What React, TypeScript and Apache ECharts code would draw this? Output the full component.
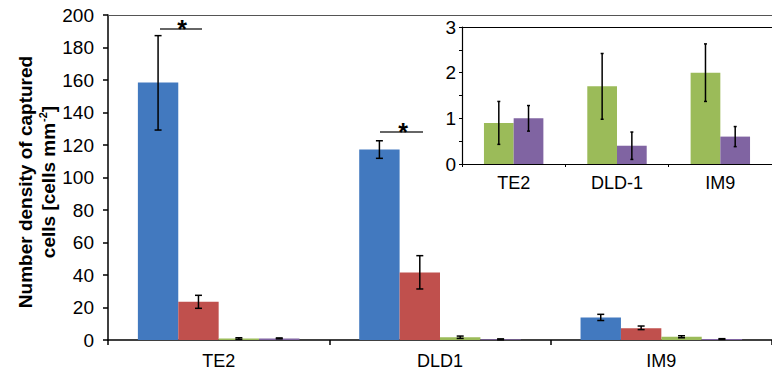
import React, { useEffect, useRef } from "react";
import * as echarts from "echarts";

const categories = ["TE2", "DLD1", "IM9"];
const insetCategories = ["TE2", "DLD-1", "IM9"];

const blueValues = [158.5, 117.3, 13.8];
const blueErr = [[129.2, 187.3], [111.8, 122.6], [12.0, 15.8]];
const redValues = [23.6, 41.6, 7.3];
const redErr = [[19.5, 27.5], [31.4, 51.9], [6.4, 8.6]];
const greenValues = [0.9, 1.7, 2.0];
const greenErr = [[0.43, 1.37], [0.98, 2.42], [1.37, 2.63]];
const purpleValues = [1.0, 0.4, 0.6];
const purpleErr = [[0.72, 1.28], [0.1, 0.7], [0.38, 0.82]];

const yTitleLine1 = "Number density of captured";
const yTitleLine2a = "cells [cells mm";
const yTitleSup = "-2";
const yTitleLine2b = "]";

const COLORS = ["#4279BF", "#C0504D", "#9BBB59", "#8064A2"];
const FONT = "'Liberation Sans', Arial, sans-serif";
const MAIN_GAP = 0.27;
const INSET_GAP = 0.425;

function errSeries(
  name: string,
  err: number[][],
  k: number,
  n: number,
  gap: number,
  capW: number,
  grid: number
) {
  return {
    type: "custom",
    name,
    xAxisIndex: grid,
    yAxisIndex: grid,
    z: 10,
    silent: true,
    encode: { x: 0, y: [1, 2] },
    data: err.map((e, i) => [i, e[0], e[1]]),
    renderItem: (params: any, api: any) => {
      const c = api.value(0);
      const lo = api.value(1);
      const hi = api.value(2);
      const catW = api.size([1, 0])[0];
      const bw = (catW * (1 - gap)) / n;
      const p0 = api.coord([c, lo]);
      const p1 = api.coord([c, hi]);
      const x = p0[0] + (k - (n - 1) / 2) * bw;
      const st = { stroke: "#000", lineWidth: 1.5 };
      return {
        type: "group",
        children: [
          { type: "line", shape: { x1: x, y1: p0[1], x2: x, y2: p1[1] }, style: st },
          { type: "line", shape: { x1: x - capW / 2, y1: p0[1], x2: x + capW / 2, y2: p0[1] }, style: st },
          { type: "line", shape: { x1: x - capW / 2, y1: p1[1], x2: x + capW / 2, y2: p1[1] }, style: st },
        ],
      };
    },
  };
}

export default function App() {
  const ref = useRef<HTMLDivElement>(null);
  useEffect(() => {
    if (!ref.current) return;
    const chart = echarts.init(ref.current, undefined, { renderer: "svg" });
    const barStyle = (c: string) => ({ color: c });
    const topLine = (gridIndex: number, data: string[], color: string, width: number) => ({
      type: "category",
      gridIndex,
      position: "top",
      data,
      axisLine: { show: true, lineStyle: { color, width } },
      axisTick: { show: false },
      axisLabel: { show: false },
      splitLine: { show: false },
    });
    const option: any = {
      animation: false,
      backgroundColor: "#fff",
      textStyle: { fontFamily: FONT },
      grid: [
        { left: 108, top: 15, width: 670, height: 325 },
        { left: 462, top: 27, width: 315, height: 137 },
      ],
      xAxis: [
        {
          type: "category",
          gridIndex: 0,
          data: categories,
          axisLine: { lineStyle: { color: "#000", width: 1.5 } },
          axisTick: { show: true, length: 5, lineStyle: { color: "#000", width: 1.5 } },
          axisLabel: { color: "#000", fontSize: 18, margin: 12, fontFamily: FONT },
        },
        {
          type: "category",
          gridIndex: 1,
          data: insetCategories,
          axisLine: { lineStyle: { color: "#000", width: 1.2 } },
          axisTick: { show: true, length: 3, lineStyle: { color: "#000", width: 1 } },
          axisLabel: { color: "#000", fontSize: 18, margin: 10, fontFamily: FONT },
        },
        topLine(0, categories, "#555", 1.2),
        topLine(1, insetCategories, "#000", 1.2),
      ],
      yAxis: [
        {
          type: "value",
          gridIndex: 0,
          min: 0,
          max: 200,
          interval: 20,
          axisLine: { show: true, lineStyle: { color: "#000", width: 1.5 } },
          axisTick: { show: true, length: 5, lineStyle: { color: "#000", width: 1.5 } },
          axisLabel: { color: "#000", fontSize: 19, margin: 14, fontFamily: FONT },
          splitLine: { show: false },
        },
        {
          type: "value",
          gridIndex: 1,
          min: 0,
          max: 3,
          interval: 0.5,
          axisLine: { show: true, lineStyle: { color: "#000", width: 1.2 } },
          axisTick: { show: true, length: 3, lineStyle: { color: "#000", width: 1 } },
          axisLabel: {
            color: "#000",
            fontSize: 19,
            margin: 6,
            fontFamily: FONT,
            formatter: (v: number) => (Number.isInteger(v) ? String(v) : ""),
          },
          splitLine: { show: false },
        },
      ],
      series: [
        { type: "bar", name: "b", data: blueValues, itemStyle: barStyle(COLORS[0]), barGap: "0%", barCategoryGap: MAIN_GAP * 100 + "%" },
        { type: "bar", name: "r", data: redValues, itemStyle: barStyle(COLORS[1]), barGap: "0%", barCategoryGap: MAIN_GAP * 100 + "%" },
        { type: "bar", name: "g", data: greenValues, itemStyle: barStyle(COLORS[2]), barGap: "0%", barCategoryGap: MAIN_GAP * 100 + "%" },
        { type: "bar", name: "p", data: purpleValues, itemStyle: barStyle(COLORS[3]), barGap: "0%", barCategoryGap: MAIN_GAP * 100 + "%" },
        errSeries("eb", blueErr, 0, 4, MAIN_GAP, 7, 0),
        errSeries("er", redErr, 1, 4, MAIN_GAP, 7, 0),
        errSeries("eg", greenErr, 2, 4, MAIN_GAP, 7, 0),
        errSeries("ep", purpleErr, 3, 4, MAIN_GAP, 7, 0),
        {
          type: "bar",
          name: "ig",
          xAxisIndex: 1,
          yAxisIndex: 1,
          data: greenValues,
          itemStyle: barStyle(COLORS[2]),
          barGap: "0%",
          barCategoryGap: INSET_GAP * 100 + "%",
        },
        {
          type: "bar",
          name: "ip",
          xAxisIndex: 1,
          yAxisIndex: 1,
          data: purpleValues,
          itemStyle: barStyle(COLORS[3]),
          barGap: "0%",
          barCategoryGap: INSET_GAP * 100 + "%",
        },
        errSeries("ieg", greenErr, 0, 2, INSET_GAP, 3, 1),
        errSeries("iep", purpleErr, 1, 2, INSET_GAP, 3, 1),
      ],
      graphic: [
        {
          type: "text",
          x: 37,
          y: 182,
          rotation: Math.PI / 2,
          style: {
            text:
              "{a|" + yTitleLine1 + "}\n{a|" + yTitleLine2a + "}{s|" + yTitleSup + "}{a|" + yTitleLine2b + "}",
            align: "center",
            verticalAlign: "middle",
            rich: {
              a: { fontSize: 19, fontWeight: "bold", fontFamily: FONT, fill: "#000", lineHeight: 23 },
              s: { fontSize: 11, fontWeight: "bold", fontFamily: FONT, fill: "#000", lineHeight: 22, verticalAlign: "top", padding: [0, 0, 0, 1] },
            },
          },
        },
        { type: "line", shape: { x1: 160, y1: 29, x2: 202, y2: 29 }, style: { stroke: "#333", lineWidth: 1.5 } },
        {
          type: "text",
          x: 182,
          y: 29,
          style: { text: "*", fontSize: 25, fontWeight: "bold", fontFamily: FONT, fill: "#000", align: "center", verticalAlign: "middle" },
        },
        { type: "line", shape: { x1: 380, y1: 132, x2: 423, y2: 132 }, style: { stroke: "#333", lineWidth: 1.5 } },
        {
          type: "text",
          x: 403,
          y: 132,
          style: { text: "*", fontSize: 25, fontWeight: "bold", fontFamily: FONT, fill: "#000", align: "center", verticalAlign: "middle" },
        },
      ],
    };
    chart.setOption(option);
    return () => chart.dispose();
  }, []);
  return (
    <div
      ref={ref}
      style={{ position: "fixed", left: 0, top: 0, width: 772, height: 375 }}
    />
  );
}
